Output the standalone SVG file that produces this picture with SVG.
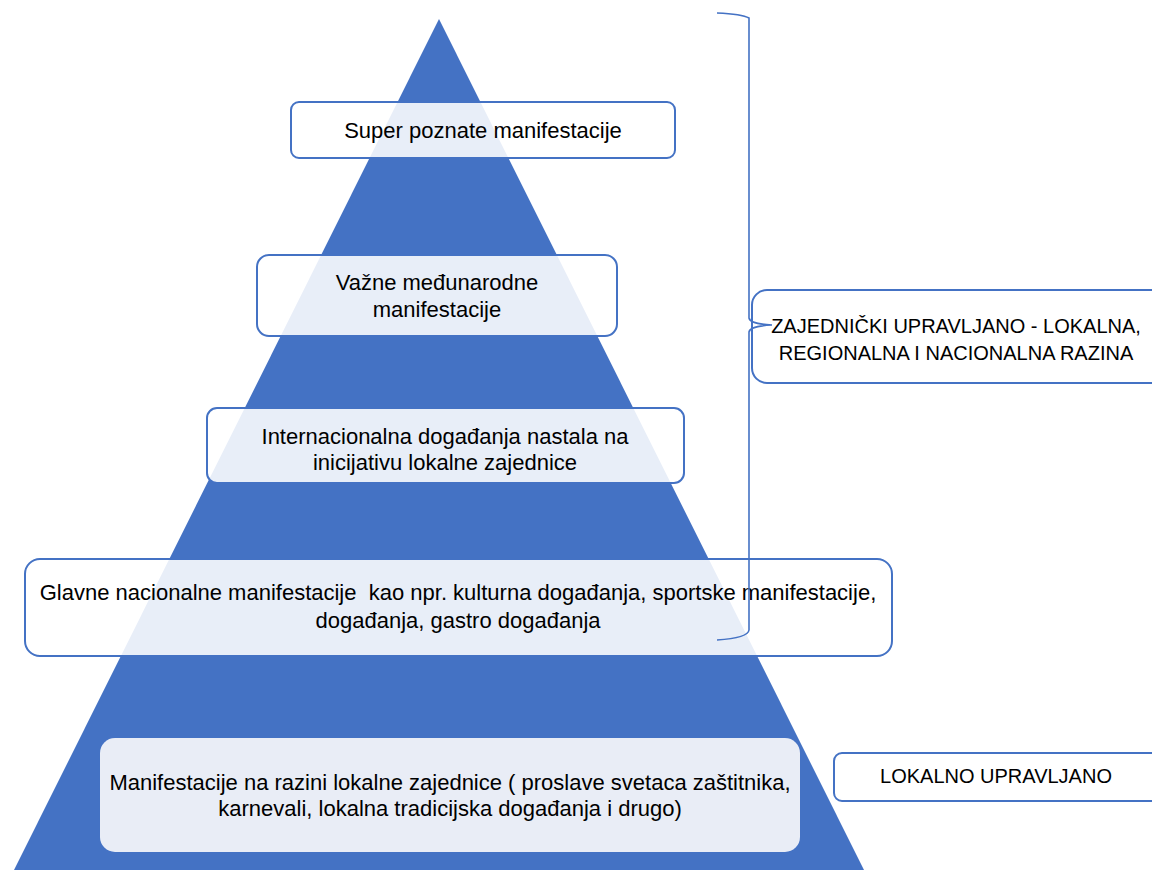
<svg xmlns="http://www.w3.org/2000/svg" width="1152" height="870" viewBox="0 0 1152 870">
<style>
.box{fill:#ffffff;fill-opacity:0.88;stroke:#4472C4;stroke-width:2}
.side{fill:#ffffff;stroke:#4472C4;stroke-width:2}
.flat{fill:#E9EDF6;stroke:none}
text{font-family:"Liberation Sans",Arial,sans-serif;font-size:22px;fill:#000;text-anchor:middle;white-space:pre}
.up{font-size:20px}
.brace{fill:none;stroke:#4472C4;stroke-width:1.6}
</style>
<rect width="1152" height="870" fill="#ffffff"/>
<g id="pyramid"><polygon points="439,19 864,870 14,870" fill="#4472C4"/></g>
<g id="n1"><rect class="box" x="291" y="102" width="384" height="56" rx="8"/><text x="483" y="138">Super poznate manifestacije</text></g>
<g id="n2"><rect class="box" x="257" y="255" width="360" height="81" rx="12"/><text x="437" y="290">Važne međunarodne</text><text x="437" y="317">manifestacije</text></g>
<g id="n3"><rect class="box" x="207" y="408" width="477" height="75" rx="10"/><text x="445" y="444">Internacionalna događanja nastala na</text><text x="445" y="470">inicijativu lokalne zajednice</text></g>
<g id="n4"><rect class="box" x="25" y="559" width="867" height="97" rx="15"/><text x="458" y="600" xml:space="preserve">Glavne nacionalne manifestacije  kao npr. kulturna događanja, sportske manifestacije,</text><text x="458" y="628">događanja, gastro događanja</text></g>
<g id="n5"><rect class="flat" x="100" y="738" width="700" height="114" rx="15"/><text x="450" y="790">Manifestacije na razini lokalne zajednice ( proslave svetaca zaštitnika,</text><text x="450" y="816">karnevali, lokalna tradicijska događanja i drugo)</text></g>
<g id="n6"><rect class="side" x="752" y="290" width="420" height="93" rx="15"/><text class="up" x="956" y="333">ZAJEDNIČKI UPRAVLJANO - LOKALNA,</text><text class="up" x="956" y="360">REGIONALNA I NACIONALNA RAZINA</text></g>
<g id="n7"><rect class="side" x="834" y="753" width="340" height="48" rx="8"/><text class="up" x="996" y="783">LOKALNO UPRAVLJANO</text></g>
<g id="connectors"><path class="brace" d="M717,13 Q742,14 749,18 L749,318 Q750,324 772,325 Q750,326 749,332 L749,630 Q748,638 717,640"/></g>
</svg>
